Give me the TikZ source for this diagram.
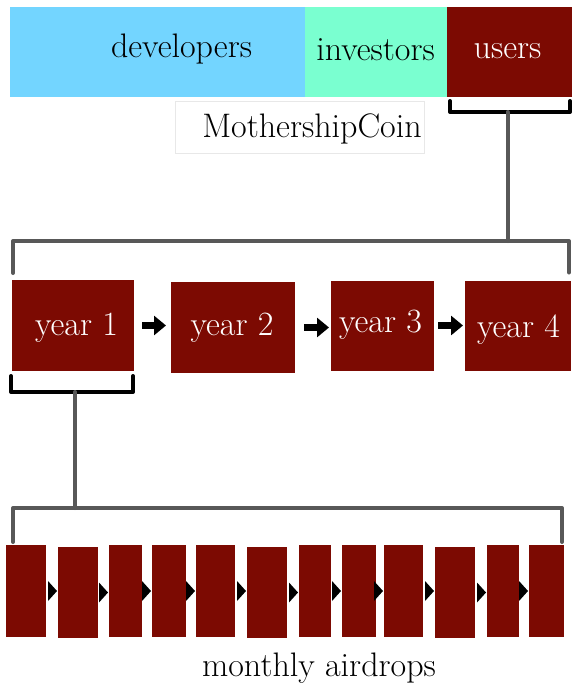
\documentclass[tikz,border=0pt]{standalone}
\usetikzlibrary{calc,arrows.meta}
\definecolor{devblue}{RGB}{115,213,255}
\definecolor{invgreen}{RGB}{122,255,208}
\definecolor{maroon}{RGB}{124,10,2}
\definecolor{brgray}{RGB}{88,88,88}
\definecolor{faint}{RGB}{232,232,232}
\begin{document}
\begin{tikzpicture}[x=1pt,y=-1pt,
  bar/.style={draw=none,inner sep=0pt,outer sep=0pt},
  mbox/.style={fill=maroon,draw=none,inner sep=0pt,outer sep=0pt},
  lbl/.style={anchor=base,inner sep=0pt,font=\fontsize{34}{40}\selectfont},
  wlbl/.style={lbl,text=white},
  blackbr/.style={draw=black,line width=4pt,line cap=round,line join=round},
  graybr/.style={draw=brgray,line width=4pt,line cap=round,line join=round},
  yarrow/.style={draw=black,line width=7pt,-{Triangle[length=12pt,width=19pt]}},
]
\useasboundingbox (0,0) rectangle (572,693);
% top bar
\node[bar,fill=devblue,minimum width=295pt,minimum height=90pt] (dev) at (157.5,52) {};
\node[bar,fill=invgreen,minimum width=142pt,minimum height=90pt] (inv) at (376,52) {};
\node[bar,fill=maroon,minimum width=125pt,minimum height=90pt] (users) at (509.5,52) {};
\node[lbl] (devt) at (181.5,58) {developers};
\node[lbl] (invt) at (375.5,60) {investors};
\node[wlbl] (usert) at (507.5,59) {users};
% MothershipCoin
\node[draw=faint,line width=0.8pt,inner sep=0pt,minimum width=249pt,minimum height=52pt] (mcbox) at (299.5,127) {};
\node[lbl] (mct) at (312,137) {MothershipCoin};
% years
\node[mbox,minimum width=122pt,minimum height=91pt] (y1) at (73,325.5) {};
\node[mbox,minimum width=124pt,minimum height=91pt] (y2) at (233,327.5) {};
\node[mbox,minimum width=103pt,minimum height=90pt] (y3) at (382.5,325.5) {};
\node[mbox,minimum width=106pt,minimum height=90pt] (y4) at (518,325.5) {};
\node[wlbl] (y1t) at (76.5,335) {year 1};
\node[wlbl] (y2t) at (232,335) {year 2};
\node[wlbl] (y3t) at (380.5,332) {year 3};
\node[wlbl] (y4t) at (518.5,337) {year 4};
\draw[yarrow,shorten <=8pt,shorten >=5pt] (y1.east) -- (y1.east -| y2.west);
\draw[yarrow,shorten <=9pt,shorten >=2pt] (y2.east) -- (y2.east -| y3.west);
\draw[yarrow,shorten <=4pt,shorten >=2pt] (y3.east) -- (y3.east -| y4.west);
% months
\foreach \i/\a/\b/\t/\u in {1/6/46/545/637, 2/58/98/547/638, 3/109/142/545/637, 4/152/186/545/637,
  5/196/235/545/637, 6/247/287/547/638, 7/299/331/545/637, 8/342/376/545/637,
  9/384/423/545/637, 10/435/475/547/638, 11/487/519/545/637, 12/529/564/545/637}{
  \pgfmathsetmacro\cx{(\a+\b)/2}\pgfmathsetmacro\cy{(\t+\u)/2}
  \pgfmathsetmacro\w{\b-\a}\pgfmathsetmacro\h{\u-\t}
  \node[mbox,minimum width=\w pt,minimum height=\h pt] (m\i) at (\cx,\cy) {};
}
\foreach \j [evaluate=\j as \k using int(\j-1)] in {2,...,12}{
  \fill[black] (m\j.west |- m\k.east) ++(-1,0) -- ++(-9,-10) -- ++(0,20) -- cycle;
}
\node[lbl] (mt) at (319,676) {monthly airdrops};
% brackets
\draw[blackbr] ($(users.south west)+(3,4)$) -- ++(0,11) -| ($(users.south east)+(-2,4)$);
\coordinate (ub) at ($(users.south)+(-2,15)$);
\coordinate (yb) at (ub |- 0,241);
\draw[graybr] (ub) -- (yb);
\draw[graybr] ($(y1.north west)+(1,-7)$) |- (yb) -| ($(y4.north east)+(-2,-8)$);
\draw[blackbr] ($(y1.south west)+(-1,5)$) -- ++(0,16) -| ($(y1.south east)+(-1,5)$);
\coordinate (y1b) at ($(y1.south)+(2,21)$);
\coordinate (mb) at (y1b |- 0,508);
\draw[graybr] (y1b) -- (mb);
\draw[graybr] ($(m1.north west)+(7,-3)$) |- (mb) -| ($(m12.north east)+(-2,-3)$);
\end{tikzpicture}
\end{document}
